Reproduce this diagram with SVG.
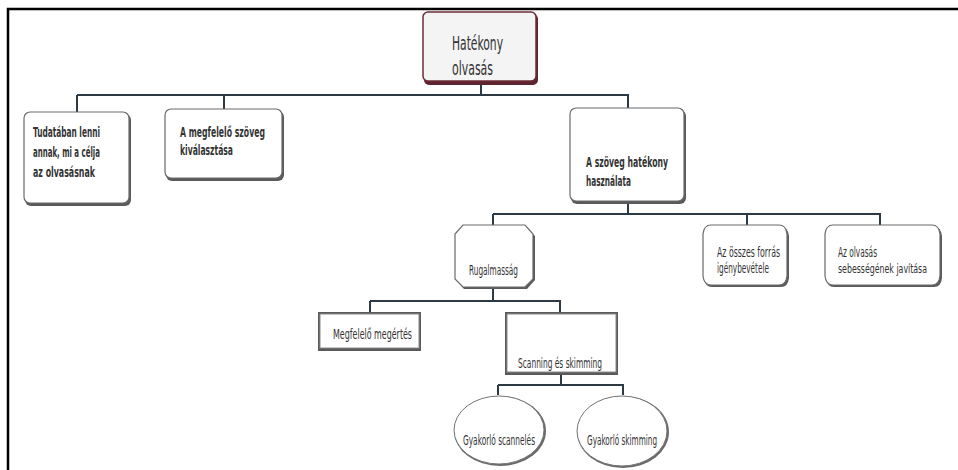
<svg xmlns="http://www.w3.org/2000/svg" width="958" height="470" viewBox="0 0 958 470">
<style>
text{font-family:"Liberation Sans Narrow","DejaVu Sans Condensed","Liberation Sans",sans-serif;fill:#333;}
.b{font-weight:bold;font-size:14px;}
.r{font-size:14px;}
.t{font-size:20px;fill:#333;}
.box{fill:#fff;stroke:#6a6a6a;stroke-width:1.2;}
.sh{fill:#5a5a5a;}
.conn path{fill:none;stroke:#2b3a44;stroke-width:2;}
</style>
<rect width="958" height="470" fill="#fff"/>
<path d="M8 470 V9 H958" fill="none" stroke="#000" stroke-width="2.5"/>
<g class="conn">
<path d="M481 82 V95 M77 95 H629 M77 95 V112 M224 95 V109 M628 95 V108"/>
<path d="M628 202 V214 M493 214 H881 M493 214 V225 M747 214 V225 M880 214 V225"/>
<path d="M493 287 V301 M370 301 H561 M370 301 V312 M560 301 V312"/>
<path d="M561 374 V385 M498 385 H624 M498 385 V395 M623 385 V395"/>
</g>
<g id="n-hatekony">
<rect x="424" y="14" width="114" height="71" rx="5" fill="#5e2530"/>
<rect x="423" y="12" width="113" height="69" rx="5" fill="#f4f4f4" stroke="#6b2c37" stroke-width="1.5"/>
<text class="t" x="452" y="50" textLength="51" lengthAdjust="spacingAndGlyphs">Hatékony</text>
<text class="t" x="452" y="75" textLength="41" lengthAdjust="spacingAndGlyphs">olvasás</text>
</g>
<g id="n-tudataban">
<rect x="25" y="114" width="106" height="92" rx="6" class="sh"/>
<rect x="24" y="112" width="105" height="91" rx="6" class="box"/>
<text class="b" x="33" y="137" textLength="67" lengthAdjust="spacingAndGlyphs">Tudatában lenni</text>
<text class="b" x="33" y="157" textLength="67" lengthAdjust="spacingAndGlyphs">annak, mi a célja</text>
<text class="b" x="33" y="177" textLength="62" lengthAdjust="spacingAndGlyphs">az olvasásnak</text>
</g>
<g id="n-megfelelo-szoveg">
<rect x="166" y="111" width="118" height="70" rx="6" class="sh"/>
<rect x="165" y="109" width="117" height="69" rx="6" class="box"/>
<text class="b" x="180" y="137" textLength="85" lengthAdjust="spacingAndGlyphs">A megfelelő szöveg</text>
<text class="b" x="180" y="155" textLength="53" lengthAdjust="spacingAndGlyphs">kiválasztása</text>
</g>
<g id="n-szoveg-hatekony">
<rect x="571" y="110" width="115" height="94" rx="6" class="sh"/>
<rect x="570" y="108" width="114" height="93" rx="6" class="box"/>
<text class="b" x="586" y="167" textLength="82" lengthAdjust="spacingAndGlyphs">A szöveg hatékony</text>
<text class="b" x="586" y="186" textLength="45" lengthAdjust="spacingAndGlyphs">használata</text>
</g>
<g id="n-rugalmassag">
<path d="M464 227 H526 L535 236 V280 L527 289 H464 L456 280 V236 Z" class="sh"/>
<path d="M463 225 H525 L533 234 V279 L525 287 H463 L455 279 V234 Z" class="box"/>
<text class="r" x="469" y="275" textLength="49" lengthAdjust="spacingAndGlyphs">Rugalmasság</text>
</g>
<g id="n-osszes-forras">
<path d="M712 227 H781 Q788 227 789 236 V278 Q788 287 781 287 H712 Q705 287 704 278 V236 Q705 227 712 227 Z" class="sh"/>
<path d="M711 225 H779 Q786 225 787 234 V276 Q786 285 779 285 H711 Q704 285 703 276 V234 Q704 225 711 225 Z" class="box"/>
<text class="r" x="717" y="257" textLength="63" lengthAdjust="spacingAndGlyphs">Az összes forrás</text>
<text class="r" x="717" y="273" textLength="52" lengthAdjust="spacingAndGlyphs">igénybevétele</text>
</g>
<g id="n-olvasas-sebesseg">
<path d="M834 227 H934 Q941 227 942 236 V278 Q941 287 934 287 H834 Q827 287 826 278 V236 Q827 227 834 227 Z" class="sh"/>
<path d="M833 225 H932 Q939 225 940 234 V276 Q939 285 932 285 H833 Q826 285 825 276 V234 Q826 225 833 225 Z" class="box"/>
<text class="r" x="838" y="257" textLength="39" lengthAdjust="spacingAndGlyphs">Az olvasás</text>
<text x="838" y="273" style="font-size:12.5px" textLength="89" lengthAdjust="spacingAndGlyphs">sebességének javítása</text>
</g>
<g id="n-megertes">
<rect x="318" y="312" width="103" height="39" class="sh"/>
<rect x="320" y="314" width="99" height="34" fill="#fff" stroke="#8a8a8a" stroke-width="1"/>
<text class="r" x="333" y="339" textLength="79" lengthAdjust="spacingAndGlyphs">Megfelelő megértés</text>
</g>
<g id="n-scanning">
<rect x="505" y="312" width="113" height="63" class="sh"/>
<rect x="507" y="314" width="109" height="58" fill="#fff" stroke="#8a8a8a" stroke-width="1"/>
<text class="r" x="518" y="368" textLength="84" lengthAdjust="spacingAndGlyphs">Scanning és skimming</text>
</g>
<g id="n-gy-scannel">
<ellipse cx="500" cy="431" rx="46" ry="35" fill="#6a6a6a"/>
<ellipse cx="499" cy="430" rx="45" ry="34" fill="#fff" stroke="#777" stroke-width="1"/>
<text class="r" x="463" y="445" textLength="72" lengthAdjust="spacingAndGlyphs">Gyakorló scannelés</text>
</g>
<g id="n-gy-skimming">
<ellipse cx="623" cy="432" rx="46" ry="36" fill="#6a6a6a"/>
<ellipse cx="622" cy="431" rx="45" ry="35" fill="#fff" stroke="#777" stroke-width="1"/>
<text class="r" x="587" y="445" textLength="70" lengthAdjust="spacingAndGlyphs">Gyakorló skimming</text>
</g>
</svg>
